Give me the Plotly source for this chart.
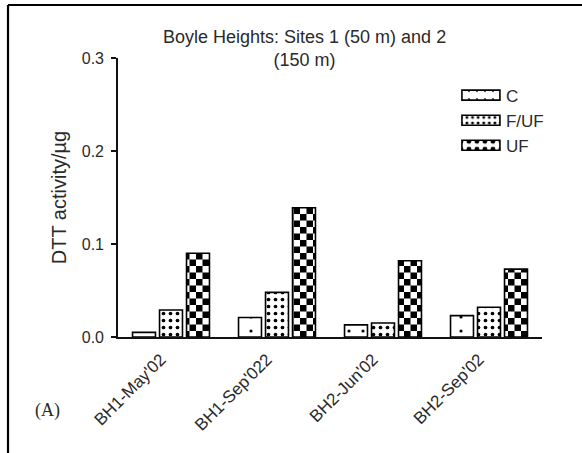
import plotly.graph_objects as go

# DTT activity per microgram for each sampling campaign and size fraction
sites = ["BH1-May'02", "BH1-Sep'022", "BH2-Jun'02", "BH2-Sep'02"]
coarse = [0.005, 0.021, 0.013, 0.023]
fine_uf = [0.029, 0.048, 0.015, 0.032]
ultrafine = [0.090, 0.139, 0.082, 0.073]
y_ticks = [0.0, 0.1, 0.2, 0.3]

FONT = "Liberation Sans, Arial, sans-serif"
INK = "#2a2a2a"

fig = go.Figure()
fig.add_bar(
    name="C", x=sites, y=coarse,
    marker=dict(color="white", line=dict(color="black", width=1.6),
                pattern=dict(shape=".", size=14, solidity=0.04,
                             fgcolor="black", bgcolor="white", fillmode="replace")),
)
fig.add_bar(
    name="F/UF", x=sites, y=fine_uf,
    marker=dict(color="white", line=dict(color="black", width=1.6),
                pattern=dict(shape=".", size=7, solidity=0.22,
                             fgcolor="black", bgcolor="white", fillmode="replace")),
)
fig.add_bar(
    name="UF", x=sites, y=ultrafine,
    marker=dict(color="white", line=dict(color="black", width=1.6),
                pattern=dict(shape=".", size=13, solidity=0.3,
                             fgcolor="black", bgcolor="white", fillmode="replace")),
)

fig.update_layout(
    width=582, height=453,
    margin=dict(l=118, r=40, t=58, b=116),
    paper_bgcolor="white", plot_bgcolor="white",
    barmode="group", bargap=0.236, bargroupgap=0.15,
    font=dict(family=FONT, color=INK, size=16),
    showlegend=True,
    legend=dict(x=0.797, y=0.93, xanchor="left", yanchor="top",
                itemwidth=40, font=dict(size=17, color=INK),
                bgcolor="rgba(0,0,0,0)", tracegroupgap=0),
    xaxis=dict(showline=True, linecolor="#111", linewidth=1.6, ticks="",
               tickangle=-45, tickfont=dict(size=17, color=INK),
               ticklabelshift=-10, ticklabelstandoff=4,
               showgrid=False, zeroline=False),
    yaxis=dict(range=[0, 0.3], tickvals=y_ticks, ticktext=[f"{v:.1f}" for v in y_ticks],
               showline=True, linecolor="#111", linewidth=1.6,
               ticks="outside", ticklen=5, tickwidth=1.6, tickcolor="#111",
               tickfont=dict(size=16, color=INK), ticklabelstandoff=4,
               title=dict(text="DTT activity/µg", font=dict(size=20, color=INK), standoff=10),
               showgrid=False, zeroline=False),
    annotations=[
        dict(text="Boyle Heights: Sites 1 (50 m) and 2<br>(150 m)",
             xref="paper", yref="paper", x=0.441, y=1.12, xanchor="center", yanchor="top",
             showarrow=False, font=dict(size=18, color=INK)),
        dict(text="(A)", xref="paper", yref="paper", x=-0.167, y=-0.262,
             xanchor="center", yanchor="middle", showarrow=False,
             font=dict(family="Liberation Serif, Times New Roman, serif", size=18, color=INK)),
    ],
    shapes=[
        dict(type="line", xref="paper", yref="paper", x0=-0.2594, x1=1.2, y0=1.19, y1=1.19,
             line=dict(color="black", width=2.2)),
        dict(type="line", xref="paper", yref="paper", x0=-0.2594, x1=-0.2594, y0=-0.5, y1=1.19,
             line=dict(color="black", width=2.2)),
    ],
)

# Checkerboard tiles for the UF fill and wide rectangular legend swatches
post = """
var gd = document.getElementById('{plot_id}');
function restyleFills() {
  var ns = 'http://www.w3.org/2000/svg';
  gd.querySelectorAll('pattern').forEach(function (p) {
    if (Math.abs(parseFloat(p.getAttribute('width')) - 13) > 0.01) return;
    if (p.getAttribute('data-checker')) return;
    while (p.firstChild) p.removeChild(p.firstChild);
    var bg = document.createElementNS(ns, 'rect');
    bg.setAttribute('width', 13); bg.setAttribute('height', 13); bg.setAttribute('fill', 'white');
    var fg = document.createElementNS(ns, 'path');
    fg.setAttribute('d', 'M0,0h6.5v6.5h-6.5z M6.5,6.5h6.5v6.5h-6.5z');
    fg.setAttribute('fill', 'black');
    p.appendChild(bg); p.appendChild(fg);
    p.setAttribute('data-checker', '1');
  });
  gd.querySelectorAll('.legend .legendpoints path').forEach(function (el) {
    el.setAttribute('d', 'M19,5H-19V-5H19Z');
  });
}
restyleFills();
gd.on('plotly_afterplot', restyleFills);
"""

fig.write_html("out.html", post_script=post)
